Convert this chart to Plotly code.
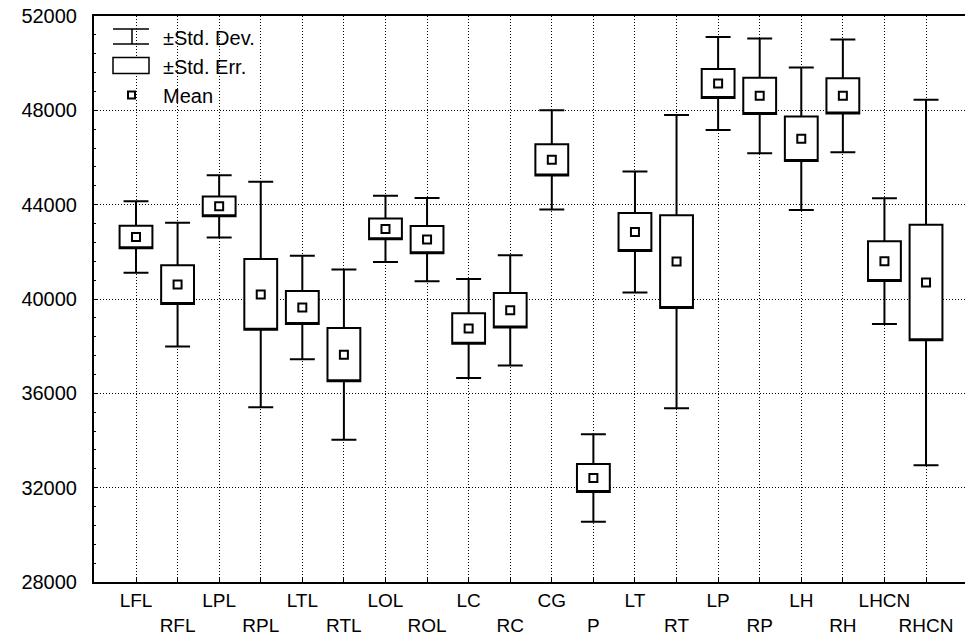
import plotly.graph_objects as go

categories = ["LFL", "RFL", "LPL", "RPL", "LTL", "RTL", "LOL", "ROL", "LC", "RC",
              "CG", "P", "LT", "RT", "LP", "RP", "LH", "RH", "LHCN", "RHCN"]
means = [42630, 40610, 43930, 40195, 39640, 37640, 42970, 42520, 38750, 39520,
         45900, 32410, 42840, 41585, 49135, 48615, 46795, 48615, 41605, 40700]
std_err = [480, 820, 420, 1500, 700, 1130, 440, 575, 650, 730,
           660, 590, 805, 1965, 615, 770, 940, 745, 840, 2445]
std_dev = [1520, 2620, 1320, 4780, 2190, 3610, 1405, 1765, 2095, 2340,
           2105, 1860, 2565, 6220, 1970, 2430, 3020, 2390, 2665, 7745]
y_ticks = [28000, 32000, 36000, 40000, 44000, 48000, 52000]
legend_labels = ["±Std. Dev.", "±Std. Err.", "Mean"]

FONT = "Liberation Sans, Arial, sans-serif"
W, H = 975, 635          # a little wider than the 965 window; right edge is clipped like the reference
ML, MR, MT, MB = 94, 0, 16, 53
PW, PH = W - ML - MR, H - MT - MB

xs = list(range(len(categories)))
q1 = [m - s for m, s in zip(means, std_err)]
q3 = [m + s for m, s in zip(means, std_err)]
lo = [m - s for m, s in zip(means, std_dev)]
hi = [m + s for m, s in zip(means, std_dev)]

fig = go.Figure()
fig.add_trace(go.Box(
    x=xs, q1=q1, median=q1, q3=q3, lowerfence=lo, upperfence=hi,
    width=0.79, whiskerwidth=0.76, fillcolor="white",
    line=dict(color="black", width=2), boxpoints=False,
    showlegend=False, hoverinfo="skip",
))
fig.add_trace(go.Scatter(
    x=xs, y=means, mode="markers",
    marker=dict(symbol="square-open", size=8, color="black", line=dict(width=2)),
    showlegend=False, hoverinfo="skip",
))

ticktext = [c if i % 2 == 0 else "<br>" + c for i, c in enumerate(categories)]


def px(x):
    return (x - ML) / PW


def py(y):
    return (H - MB - y) / PH


shapes = []
# legend icons (decoration in paper space, given in page pixels)
line = dict(color="black", width=1.5)
shapes.append(dict(type="line", xref="paper", yref="paper", x0=px(113), x1=px(149), y0=py(29), y1=py(29), line=line))
shapes.append(dict(type="line", xref="paper", yref="paper", x0=px(113), x1=px(149), y0=py(44), y1=py(44), line=line))
shapes.append(dict(type="line", xref="paper", yref="paper", x0=px(132), x1=px(132), y0=py(29), y1=py(44), line=line))
shapes.append(dict(type="rect", xref="paper", yref="paper", x0=px(113), x1=px(149), y0=py(57.5), y1=py(73.5),
                   line=dict(color="black", width=1.5), fillcolor="white"))
shapes.append(dict(type="rect", xref="paper", yref="paper", x0=px(128), x1=px(135), y0=py(91.5), y1=py(98.5),
                   line=dict(color="black", width=2)))

annotations = []
for lab, yy in zip(legend_labels, [38.5, 67.5, 95.5]):
    annotations.append(dict(text=lab, xref="paper", yref="paper", x=px(161), y=py(yy),
                            xanchor="left", yanchor="middle", showarrow=False,
                            font=dict(family=FONT, size=20, color="black")))

# pixel scale: categories 41.58 px apart, first at page x=136
x_lo = (ML - 136) / 41.58
x_hi = (W - 136) / 41.58

fig.update_layout(
    width=W, height=H,
    margin=dict(l=ML, r=MR, t=MT, b=MB, pad=0, autoexpand=False),
    paper_bgcolor="white", plot_bgcolor="white",
    shapes=shapes, annotations=annotations,
    font=dict(family=FONT, size=19, color="black"),
    hovermode=False,
)
fig.update_xaxes(
    range=[x_lo, x_hi], tickmode="array", tickvals=xs, ticktext=ticktext,
    tickangle=0, automargin=False,
    showgrid=True, gridcolor="black", gridwidth=1, griddash="1px,2px",
    showline=True, linecolor="black", linewidth=2, mirror=True,
    ticks="inside", ticklen=4, tickcolor="black", zeroline=False,
    tickfont=dict(family=FONT, size=19, color="black"),
)
fig.update_yaxes(
    range=[28000, 52000], tickmode="array", tickvals=y_ticks,
    ticktext=[str(v) for v in y_ticks], automargin=False,
    showgrid=True, gridcolor="black", gridwidth=1, griddash="1px,2px",
    showline=True, linecolor="black", linewidth=2, mirror=False,
    ticks="inside", ticklen=4, tickcolor="black", zeroline=False,
    ticklabelstandoff=11, ticklabeloverflow="allow",
    minor=dict(ticks="inside", ticklen=2, dtick=800, tickcolor="black", showgrid=False),
    tickfont=dict(family=FONT, size=20, color="black"),
)

fig.write_html(
    "out.html",
    config={"displayModeBar": False, "staticPlot": True},
    post_script=(
        "document.documentElement.style.overflow='hidden';"
        "document.body.style.margin='0';document.body.style.overflow='hidden';"
    ),
)
